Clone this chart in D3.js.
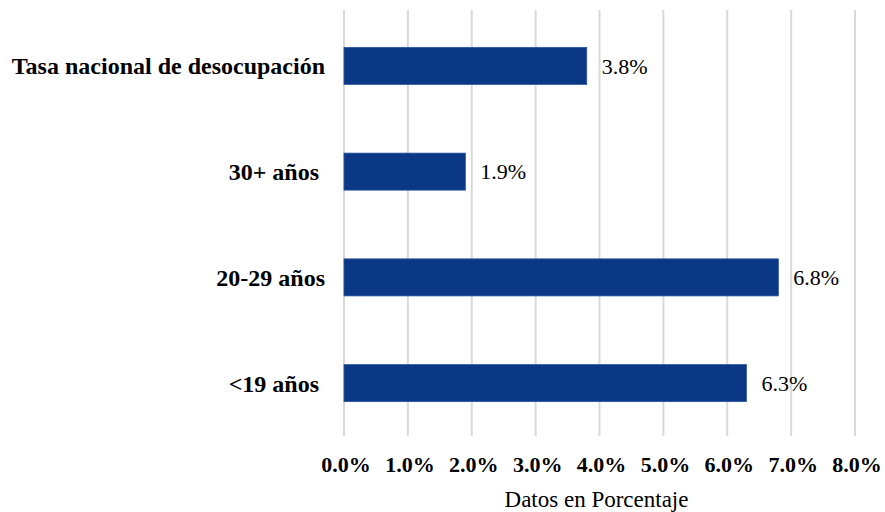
<!DOCTYPE html>
<html>
<head>
<meta charset="utf-8">
<script src="https://cdn.jsdelivr.net/npm/d3@7"></script>
<style>
  body { margin: 0; background: #fff; }
  svg { display: block; }
</style>
</head>
<body>
<div id="chart"></div>
<script>
// Datos
var categorias = ["Tasa nacional de desocupación", "30+ años ", "20-29 años", "<19 años "];
var valores = [3.8, 1.9, 6.8, 6.3];
var ticks = [0, 1, 2, 3, 4, 5, 6, 7, 8];

var width = 885, height = 512;
var margin = {top: 13, right: 30, bottom: 76, left: 344};

var svg = d3.select("#chart")
  .append("svg")
    .attr("width", width)
    .attr("height", height);

var x = d3.scaleLinear()
  .domain([0, 8])
  .range([margin.left, width - margin.right]);

var y = d3.scaleBand()
  .domain(categorias)
  .range([margin.top, height - margin.bottom])
  .paddingInner(0.65)
  .paddingOuter(0.325);

var serif = "'Liberation Serif', 'Times New Roman', serif";

// Líneas de cuadrícula
svg.selectAll("line.grid")
  .data(ticks)
  .enter()
  .append("line")
    .attr("class", "grid")
    .attr("x1", function(d){ return x(d) })
    .attr("x2", function(d){ return x(d) })
    .attr("y1", margin.top - 3)
    .attr("y2", height - margin.bottom)
    .style("stroke", "#d9d9d9")
    .style("stroke-width", 2)

// Barras
svg.selectAll("rect.bar")
  .data(valores)
  .enter()
  .append("rect")
    .attr("class", "bar")
    .attr("x", x(0))
    .attr("y", function(d, i){ return y(categorias[i]) })
    .attr("width", function(d){ return x(d) - x(0) })
    .attr("height", y.bandwidth())
    .style("fill", "#0a3884")
    .style("stroke", "#2a54a0")
    .style("stroke-width", 0.8)

// Etiquetas de valores
svg.selectAll("text.valor")
  .data(valores)
  .enter()
  .append("text")
    .attr("x", function(d){ return x(d) + 15 })
    .attr("y", function(d, i){ return y(categorias[i]) + y.bandwidth() / 2 })
    .attr("dy", "0.35em")
    .text(function(d){ return d.toFixed(1) + "%" })
    .style("font-family", serif)
    .style("font-size", "22px")
    .style("fill", "#000")

// Etiquetas de categorías
svg.selectAll("text.cat")
  .data(categorias)
  .enter()
  .append("text")
    .attr("x", margin.left - 19)
    .attr("y", function(d){ return y(d) + y.bandwidth() / 2 })
    .attr("dy", "0.35em")
    .attr("text-anchor", "end")
    .attr("xml:space", "preserve")
    .style("white-space", "pre")
    .text(function(d){ return d })
    .style("font-family", serif)
    .style("font-weight", "bold")
    .style("font-size", "24px")
    .style("fill", "#000")

// Etiquetas del eje x
svg.selectAll("text.tick")
  .data(ticks)
  .enter()
  .append("text")
    .attr("x", function(d){ return x(d) + 2 })
    .attr("y", 472)
    .attr("text-anchor", "middle")
    .text(function(d){ return d.toFixed(1) + "%" })
    .style("font-family", serif)
    .style("font-weight", "bold")
    .style("font-size", "22px")
    .style("fill", "#000")

// Título del eje
svg.append("text")
  .attr("x", x(4) - 3)
  .attr("y", 507)
  .attr("text-anchor", "middle")
  .text("Datos en Porcentaje")
  .style("font-family", serif)
  .style("font-size", "23px")
  .style("fill", "#000")
</script>
</body>
</html>
